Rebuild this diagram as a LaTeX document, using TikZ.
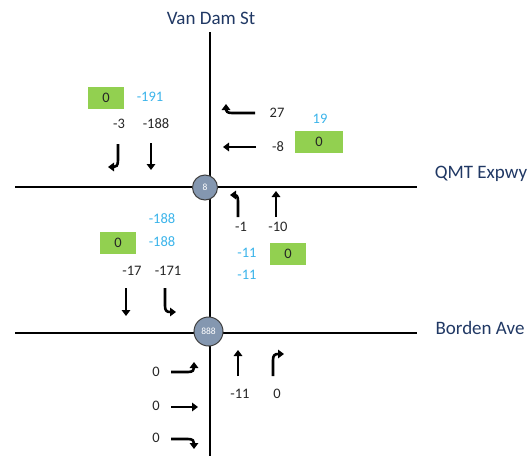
\documentclass[tikz,border=0pt]{standalone}
\usepackage{fontspec}
\setmainfont{Carlito}
\usetikzlibrary{arrows.meta}
\definecolor{roadInk}{HTML}{203864}
\definecolor{volBlue}{HTML}{3BB4EA}
\definecolor{volInk}{HTML}{262626}
\definecolor{boxGreen}{HTML}{92D050}
\definecolor{sigFill}{HTML}{8497B0}
\definecolor{sigEdge}{HTML}{404040}

\begin{document}
\begin{tikzpicture}[
  x=1pt, y=-1pt,
  road/.style={line width=2pt, black},
  movearrow/.style={line width=2.6pt, black, -{Triangle[width=8.5pt,length=6pt]}},
  streetname/.style={font=\fontsize{19}{21}\selectfont, text=roadInk},
  volblack/.style={font=\fontsize{14.5}{16}\selectfont, text=volInk},
  volblue/.style={font=\fontsize{14.5}{16}\selectfont, text=volBlue},
  volbox/.style={fill=boxGreen, minimum height=22pt, inner sep=0pt,
    font=\fontsize{14.5}{16}\selectfont, text=volInk},
  signal/.style={circle, fill=sigFill, draw=sigEdge, line width=1pt,
    text=white, inner sep=0pt, font=\fontsize{9.5}{10}\selectfont}
]
  \useasboundingbox (0,0) rectangle (531,456);

  %% --- strade (unita': px del riferimento) ---
  \coordinate (vdTop) at (209.5,32);
  \coordinate (vdBot) at (209.5,456);
  \coordinate (qmtW) at (15,187);
  \coordinate (qmtE) at (417,187);
  \coordinate (bdW) at (15,333);
  \coordinate (bdE) at (417,333);
  \draw[road] (vdTop) -- (vdBot);
  \draw[road] (qmtW) -- (qmtE);
  \draw[road] (bdW) -- (bdE);

  \node[signal, minimum size=25pt] (sig8) at (205,187.5) {8};
  \node[signal, minimum size=29pt] (sig888) at (208.5,331.5) {888};

  \node[streetname] (vanDam) at (211,18) {Van Dam St};
  \node[streetname] (qmt) at (481,174) {QMT Expwy};
  \node[streetname] (borden) at (480,328) {Borden Ave};

  %% --- frecce di manovra ---
  %% incrocio 8
  \draw[movearrow] (118,144) -- (118,160) .. controls (118,166) and (116,167) .. (108,167);
  \draw[movearrow] (151,143) -- (151,170);
  \draw[movearrow] (255,113) -- (232,113) .. controls (227,113) and (226,111) .. (226,104);
  \draw[movearrow] (256,147) -- (223,147);
  \draw[movearrow] (238,217) -- (238,201) .. controls (238,196) and (236,195) .. (230,195);
  \draw[movearrow] (276,217) -- (276,191);
  %% incrocio 888
  \draw[movearrow] (126,288) -- (126,316);
  \draw[movearrow] (165,288) -- (165,306) .. controls (165,311) and (167,312) .. (176,312);
  \draw[movearrow] (171,372) -- (188,372) .. controls (193,372) and (194,370) .. (194,362);
  \draw[movearrow] (171,407) -- (198,407);
  \draw[movearrow] (171,439) -- (188,439) .. controls (193,439) and (194,441) .. (194,449);
  \draw[movearrow] (238,376) -- (238,350);
  \draw[movearrow] (273,376) -- (273,360) .. controls (273,355) and (275,354) .. (284,354);

  %% --- volumi per manovra ---
  \foreach \name/\x/\y/\val in {
    sbLeft/119/124/-3, sbThru/156/124/-188,
    wbLeft/277/113/27, wbThru/278/147/-8,
    nbLeft/241/227/-1, nbThru/278/227/-10,
    sbThruB/132/271/-17, sbRightB/168/271/-171,
    ebLeft/156/372/0, ebThru/156/406/0, ebRight/156/438/0,
    nbThruB/240/394/-11, nbRightB/277/394/0
  } {
    \node[volblack] (\name) at (\x,\y) {\val};
  }

  %% --- totali di ramo ---
  \foreach \name/\x/\y/\val in {
    sbTot/150/97/-191, wbTot/320/119/19,
    sbIn/162/219/-188, sbOut/162/242/-188,
    nbIn/247/253/-11, nbOut/247/275/-11
  } {
    \node[volblue] (\name) at (\x,\y) {\val};
  }

  %% --- caselle verdi ---
  \foreach \name/\x/\y/\w in {
    sbBox/106/98/36, wbBox/319/142/48,
    sbBoxB/118/243/36, nbBox/288/254/36
  } {
    \node[volbox, minimum width=\w pt] (\name) at (\x,\y) {0};
  }
\end{tikzpicture}
\end{document}
